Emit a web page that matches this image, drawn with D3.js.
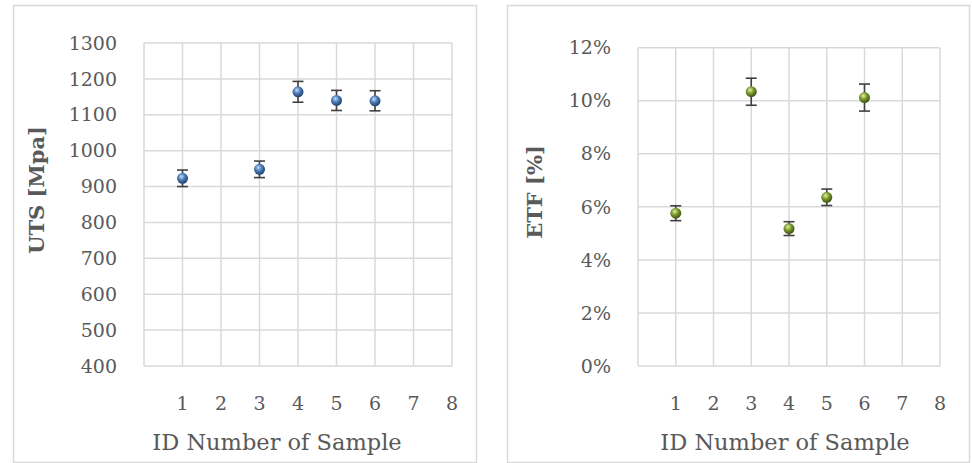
<!DOCTYPE html>
<html>
<head>
<meta charset="utf-8">
<script src="https://cdn.jsdelivr.net/npm/d3@7"></script>
<style>
  body { margin: 0; background: #fff; }
  svg text { font-family: "DejaVu Serif", serif; fill: #595959; }
</style>
</head>
<body>
<div id="chart"></div>
<script>
// sample ids and measured values
const sampleIds = [1, 3, 4, 5, 6];
const utsValues = [923, 948, 1164, 1140, 1139];
const utsErrors = [23, 23, 29, 28, 28];
const etfValues = [0.0576, 0.1034, 0.0518, 0.0636, 0.1012];
const etfErrors = [0.0028, 0.0051, 0.0026, 0.0031, 0.0051];
const xTicks = [1, 2, 3, 4, 5, 6, 7, 8];
const utsTicks = [400, 500, 600, 700, 800, 900, 1000, 1100, 1200, 1300];
const etfTicks = [0, 0.02, 0.04, 0.06, 0.08, 0.10, 0.12];

const W = 972, H = 463;
const svg = d3.select("#chart").append("svg")
    .attr("width", W).attr("height", H);

const defs = svg.append("defs");
function sphere(id, light, mid, dark) {
    const g = defs.append("radialGradient").attr("id", id)
        .attr("cx", "40%").attr("cy", "35%").attr("r", "65%");
    g.append("stop").attr("offset", "0%").attr("stop-color", light);
    g.append("stop").attr("offset", "45%").attr("stop-color", mid);
    g.append("stop").attr("offset", "100%").attr("stop-color", dark);
}
sphere("blueBall", "#c9dcf3", "#4f81bd", "#1f3f6b");
sphere("greenBall", "#e2f0b0", "#7f9f2f", "#3c5210");

function panel(opts) {
    // outer frame
    svg.append("rect")
        .attr("x", opts.box[0] + 0.5).attr("y", opts.box[1] + 0.5)
        .attr("width", opts.box[2]).attr("height", opts.box[3])
        .attr("fill", "#fff").attr("stroke", "#d9d9d9").attr("stroke-width", 1.5);

    const g = svg.append("g");
    const x = d3.scaleLinear().domain([0, 8]).range([opts.left, opts.right]);
    const y = d3.scaleLinear().domain(opts.yDomain).range([opts.bottom, opts.top]);

    // gridlines
    g.selectAll("line.hgrid").data(opts.yTicks).enter().append("line")
        .attr("x1", opts.left).attr("x2", opts.right)
        .attr("y1", d => y(d)).attr("y2", d => y(d))
        .attr("stroke", "#d9d9d9").attr("stroke-width", 1.5);
    g.selectAll("line.vgrid").data([0].concat(xTicks)).enter().append("line")
        .attr("y1", opts.top).attr("y2", opts.bottom)
        .attr("x1", d => x(d)).attr("x2", d => x(d))
        .attr("stroke", "#d9d9d9").attr("stroke-width", 1.5);

    // y tick labels
    g.selectAll("text.ytick").data(opts.yTicks).enter().append("text")
        .attr("x", opts.left - 27).attr("y", d => y(d))
        .attr("dy", "0.35em").attr("text-anchor", "end")
        .style("font-size", "19px")
        .text(opts.fmt);

    // x tick labels
    g.selectAll("text.xtick").data(xTicks).enter().append("text")
        .attr("x", d => x(d)).attr("y", 410)
        .attr("text-anchor", "middle")
        .style("font-size", "19px")
        .text(d => d);

    // axis titles
    g.append("text")
        .attr("x", opts.xTitleX).attr("y", 450)
        .attr("text-anchor", "middle")
        .style("font-size", "22.5px")
        .text("ID Number of Sample");
    g.append("text")
        .attr("transform", `translate(${opts.yTitleX},${opts.yTitleY}) rotate(-90)`)
        .attr("text-anchor", "middle").attr("dy", "0.35em")
        .style("font-size", "21px").style("font-weight", "bold")
        .text(opts.yTitle);

    // error bars
    const eb = g.selectAll("g.err").data(opts.values).enter().append("g")
        .attr("stroke", "#404040").attr("stroke-width", 1.6);
    eb.append("line")
        .attr("x1", (d, i) => x(sampleIds[i])).attr("x2", (d, i) => x(sampleIds[i]))
        .attr("y1", (d, i) => y(d - opts.errors[i])).attr("y2", (d, i) => y(d + opts.errors[i]));
    [-1, 1].forEach(s => {
        eb.append("line")
            .attr("x1", (d, i) => x(sampleIds[i]) - 5.5).attr("x2", (d, i) => x(sampleIds[i]) + 5.5)
            .attr("y1", (d, i) => y(d + s * opts.errors[i])).attr("y2", (d, i) => y(d + s * opts.errors[i]));
    });

    // markers
    g.selectAll("circle.pt").data(opts.values).enter().append("circle")
        .attr("cx", (d, i) => x(sampleIds[i])).attr("cy", d => y(d))
        .attr("r", 5.5)
        .attr("fill", `url(#${opts.ball})`);
}

panel({
    box: [13, 5, 463, 457],
    left: 144, right: 452, top: 43, bottom: 366,
    yDomain: [400, 1300], yTicks: utsTicks, fmt: d => d,
    values: utsValues, errors: utsErrors, ball: "blueBall",
    yTitle: "UTS [Mpa]", yTitleX: 37, yTitleY: 190, xTitleX: 277
});

panel({
    box: [507, 5, 462, 457],
    left: 638, right: 940, top: 47.7, bottom: 366,
    yDomain: [0, 0.12], yTicks: etfTicks, fmt: d => Math.round(d * 100) + "%",
    values: etfValues, errors: etfErrors, ball: "greenBall",
    yTitle: "ETF [%]", yTitleX: 535, yTitleY: 192, xTitleX: 785
});
</script>
</body>
</html>
